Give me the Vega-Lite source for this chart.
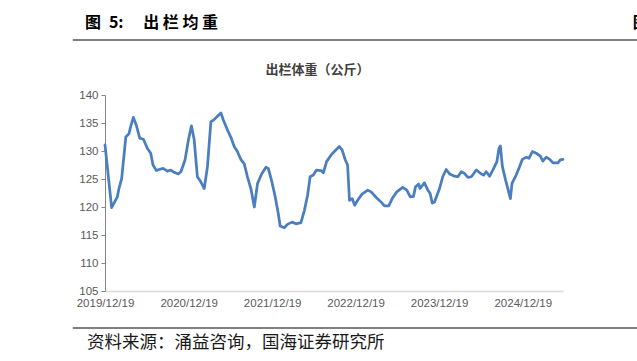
{
  "$schema": "https://vega.github.io/schema/vega-lite/v6.json",
  "width": 458,
  "height": 196,
  "autosize": {"type": "none"},
  "padding": {"left": 105, "top": 95, "right": 74, "bottom": 70},
  "background": "white",
  "config": {
    "view": {"stroke": null},
    "font": "Liberation Sans",
    "axisX": {
      "grid": false,
      "ticks": false,
      "tickSize": 0,
      "domainColor": "#d9d9d9",
      "domainWidth": 1.5,
      "labelColor": "#595959",
      "labelFont": "Liberation Sans",
      "labelFontSize": 11.5,
      "labelPadding": 6,
      "labelFlush": false,
      "labelOverlap": false
    },
    "axisY": {
      "grid": false,
      "domainColor": "#868686",
      "tickColor": "#868686",
      "tickSize": 4,
      "labelColor": "#595959",
      "labelFont": "Liberation Sans",
      "labelFontSize": 11.5,
      "labelPadding": 3,
      "labelOverlap": false,
      "labelFlush": false,
      "tickCount": 8
    }
  },
  "datasets": {
    "weights": [
      {"date": "2019-12-19", "weight": 131.1},
      {"date": "2020-01-17", "weight": 119.9},
      {"date": "2020-02-11", "weight": 121.8},
      {"date": "2020-02-18", "weight": 123.3},
      {"date": "2020-03-01", "weight": 125.1},
      {"date": "2020-03-19", "weight": 132.5},
      {"date": "2020-04-02", "weight": 133.1},
      {"date": "2020-04-10", "weight": 134.5},
      {"date": "2020-04-21", "weight": 136.0},
      {"date": "2020-05-04", "weight": 134.6},
      {"date": "2020-05-19", "weight": 132.3},
      {"date": "2020-06-04", "weight": 132.1},
      {"date": "2020-06-21", "weight": 130.5},
      {"date": "2020-07-06", "weight": 129.6},
      {"date": "2020-07-16", "weight": 127.5},
      {"date": "2020-07-31", "weight": 126.5},
      {"date": "2020-08-12", "weight": 126.7},
      {"date": "2020-08-29", "weight": 126.9},
      {"date": "2020-09-17", "weight": 126.4},
      {"date": "2020-10-02", "weight": 126.6},
      {"date": "2020-10-16", "weight": 126.2},
      {"date": "2020-11-03", "weight": 125.9},
      {"date": "2020-11-15", "weight": 126.3},
      {"date": "2020-12-03", "weight": 128.4},
      {"date": "2020-12-18", "weight": 132.0},
      {"date": "2020-12-31", "weight": 134.5},
      {"date": "2021-01-12", "weight": 132.0},
      {"date": "2021-01-26", "weight": 125.4},
      {"date": "2021-02-10", "weight": 124.5},
      {"date": "2021-02-25", "weight": 123.3},
      {"date": "2021-03-11", "weight": 127.2},
      {"date": "2021-03-26", "weight": 135.2},
      {"date": "2021-04-09", "weight": 135.6},
      {"date": "2021-04-24", "weight": 136.2},
      {"date": "2021-05-09", "weight": 136.8},
      {"date": "2021-05-20", "weight": 135.5},
      {"date": "2021-06-07", "weight": 133.7},
      {"date": "2021-06-24", "weight": 132.2},
      {"date": "2021-07-06", "weight": 130.8},
      {"date": "2021-07-20", "weight": 129.9},
      {"date": "2021-08-04", "weight": 128.5},
      {"date": "2021-08-19", "weight": 127.7},
      {"date": "2021-09-02", "weight": 125.4},
      {"date": "2021-09-17", "weight": 123.3},
      {"date": "2021-10-02", "weight": 120.0},
      {"date": "2021-10-16", "weight": 124.2},
      {"date": "2021-11-03", "weight": 125.9},
      {"date": "2021-11-22", "weight": 127.1},
      {"date": "2021-12-02", "weight": 126.9},
      {"date": "2021-12-16", "weight": 124.8},
      {"date": "2021-12-31", "weight": 122.1},
      {"date": "2022-01-15", "weight": 118.8},
      {"date": "2022-01-23", "weight": 116.6},
      {"date": "2022-02-10", "weight": 116.3},
      {"date": "2022-02-24", "weight": 116.9},
      {"date": "2022-03-16", "weight": 117.3},
      {"date": "2022-04-02", "weight": 117.0},
      {"date": "2022-04-24", "weight": 117.2},
      {"date": "2022-05-09", "weight": 119.4},
      {"date": "2022-05-23", "weight": 122.1},
      {"date": "2022-06-03", "weight": 125.4},
      {"date": "2022-06-17", "weight": 125.7},
      {"date": "2022-07-01", "weight": 126.6},
      {"date": "2022-07-21", "weight": 126.5},
      {"date": "2022-07-31", "weight": 126.1},
      {"date": "2022-08-14", "weight": 128.1},
      {"date": "2022-09-03", "weight": 129.3},
      {"date": "2022-09-17", "weight": 129.9},
      {"date": "2022-10-09", "weight": 130.8},
      {"date": "2022-10-21", "weight": 130.2},
      {"date": "2022-11-04", "weight": 128.4},
      {"date": "2022-11-14", "weight": 127.5},
      {"date": "2022-11-22", "weight": 121.2},
      {"date": "2022-12-04", "weight": 121.5},
      {"date": "2022-12-15", "weight": 120.3},
      {"date": "2022-12-28", "weight": 121.2},
      {"date": "2023-01-16", "weight": 122.3},
      {"date": "2023-02-10", "weight": 123.0},
      {"date": "2023-02-25", "weight": 122.7},
      {"date": "2023-03-19", "weight": 121.7},
      {"date": "2023-04-09", "weight": 120.9},
      {"date": "2023-04-24", "weight": 120.2},
      {"date": "2023-05-13", "weight": 120.2},
      {"date": "2023-05-28", "weight": 121.5},
      {"date": "2023-06-17", "weight": 122.7},
      {"date": "2023-07-13", "weight": 123.5},
      {"date": "2023-07-31", "weight": 123.0},
      {"date": "2023-08-15", "weight": 121.8},
      {"date": "2023-08-29", "weight": 121.9},
      {"date": "2023-09-07", "weight": 123.6},
      {"date": "2023-09-21", "weight": 124.1},
      {"date": "2023-09-27", "weight": 123.3},
      {"date": "2023-10-16", "weight": 124.3},
      {"date": "2023-10-31", "weight": 123.0},
      {"date": "2023-11-10", "weight": 122.4},
      {"date": "2023-11-19", "weight": 120.7},
      {"date": "2023-11-29", "weight": 120.9},
      {"date": "2023-12-21", "weight": 123.3},
      {"date": "2024-01-04", "weight": 125.4},
      {"date": "2024-01-19", "weight": 126.7},
      {"date": "2024-02-03", "weight": 125.9},
      {"date": "2024-02-25", "weight": 125.5},
      {"date": "2024-03-10", "weight": 125.4},
      {"date": "2024-03-25", "weight": 126.3},
      {"date": "2024-04-08", "weight": 126.0},
      {"date": "2024-04-23", "weight": 125.3},
      {"date": "2024-05-08", "weight": 125.4},
      {"date": "2024-05-30", "weight": 126.6},
      {"date": "2024-06-21", "weight": 125.9},
      {"date": "2024-07-01", "weight": 125.7},
      {"date": "2024-07-12", "weight": 126.3},
      {"date": "2024-07-27", "weight": 125.5},
      {"date": "2024-08-10", "weight": 126.6},
      {"date": "2024-08-28", "weight": 128.1},
      {"date": "2024-09-06", "weight": 130.5},
      {"date": "2024-09-12", "weight": 130.9},
      {"date": "2024-09-21", "weight": 127.2},
      {"date": "2024-10-05", "weight": 124.8},
      {"date": "2024-10-26", "weight": 121.5},
      {"date": "2024-11-02", "weight": 124.2},
      {"date": "2024-11-18", "weight": 125.5},
      {"date": "2024-12-05", "weight": 127.2},
      {"date": "2024-12-17", "weight": 128.5},
      {"date": "2025-01-04", "weight": 128.9},
      {"date": "2025-01-15", "weight": 128.7},
      {"date": "2025-01-30", "weight": 129.9},
      {"date": "2025-02-16", "weight": 129.6},
      {"date": "2025-03-06", "weight": 129.1},
      {"date": "2025-03-17", "weight": 128.2},
      {"date": "2025-04-01", "weight": 128.9},
      {"date": "2025-04-16", "weight": 128.5},
      {"date": "2025-04-30", "weight": 127.9},
      {"date": "2025-05-22", "weight": 127.9},
      {"date": "2025-06-01", "weight": 128.4},
      {"date": "2025-06-13", "weight": 128.5}
    ],
    "single": [{}]
  },
  "layer": [
    {
      "data": {"name": "weights"},
      "mark": {"type": "line", "color": "#4a7ebf", "strokeWidth": 2.75, "strokeJoin": "round", "strokeCap": "round"},
      "encoding": {
        "x": {
          "field": "date",
          "type": "temporal",
          "scale": {"type": "utc", "domain": [{"year": 2019, "month": 12, "date": 19, "utc": true}, {"year": 2025, "month": 6, "date": 13, "utc": true}]},
          "axis": {
            "title": null,
            "format": "%Y/%m/%d",
            "labelOverlap": false,
            "values": [
              {"year": 2019, "month": 12, "date": 19, "utc": true},
              {"year": 2020, "month": 12, "date": 19, "utc": true},
              {"year": 2021, "month": 12, "date": 19, "utc": true},
              {"year": 2022, "month": 12, "date": 19, "utc": true},
              {"year": 2023, "month": 12, "date": 19, "utc": true},
              {"year": 2024, "month": 12, "date": 19, "utc": true}
            ]
          }
        },
        "y": {
          "field": "weight",
          "type": "quantitative",
          "scale": {"domain": [105, 140], "zero": false, "nice": false},
          "axis": {
            "title": null,
            "labelOverlap": false,
            "tickCount": 8,
            "values": [105, 110, 115, 120, 125, 130, 135, 140]
          }
        }
      }
    },
    {
      "data": {"name": "single"},
      "mark": {"type": "rule", "color": "#808080", "strokeWidth": 2},
      "encoding": {
        "x": {"datum": {"year": 2019, "month": 7, "date": 31, "utc": true}, "type": "temporal", "axis": {"title": null, "labelOverlap": false}},
        "x2": {"datum": {"year": 2026, "month": 5, "date": 20, "utc": true}},
        "y": {"datum": 149.8, "type": "quantitative", "axis": {"title": null, "labelOverlap": false}}
      }
    },
    {
      "data": {"name": "single"},
      "mark": {"type": "rule", "color": "#808080", "strokeWidth": 2},
      "encoding": {
        "x": {"datum": {"year": 2019, "month": 7, "date": 31, "utc": true}, "type": "temporal", "axis": {"title": null, "labelOverlap": false}},
        "x2": {"datum": {"year": 2026, "month": 5, "date": 20, "utc": true}},
        "y": {"datum": 98.4, "type": "quantitative", "axis": {"title": null, "labelOverlap": false}}
      }
    },
    {
      "data": {"name": "single"},
      "mark": {"type": "text", "align": "left", "baseline": "middle", "font": "Noto Sans CJK SC", "fontSize": 16, "fontWeight": "bold", "color": "#000000", "text": "图\u20025:\u3000 出 栏 均 重"},
      "encoding": {
        "x": {"datum": {"year": 2019, "month": 9, "date": 22, "utc": true}, "type": "temporal", "axis": {"title": null, "labelOverlap": false}},
        "y": {"datum": 152.8, "type": "quantitative", "axis": {"title": null, "labelOverlap": false}}
      }
    },
    {
      "data": {"name": "single"},
      "mark": {"type": "text", "align": "left", "baseline": "middle", "font": "Noto Sans CJK SC", "fontSize": 16, "fontWeight": "bold", "color": "#000000", "text": "图"},
      "encoding": {
        "x": {"datum": {"year": 2026, "month": 4, "date": 14, "utc": true}, "type": "temporal", "axis": {"title": null, "labelOverlap": false}},
        "y": {"datum": 152.8, "type": "quantitative", "axis": {"title": null, "labelOverlap": false}}
      }
    },
    {
      "data": {"name": "single"},
      "mark": {"type": "text", "align": "center", "baseline": "middle", "font": "Noto Sans CJK SC", "fontSize": 13, "fontWeight": "bold", "color": "#404040", "text": "出栏体重（公斤）"},
      "encoding": {
        "x": {"datum": {"year": 2022, "month": 7, "date": 5, "utc": true}, "type": "temporal", "axis": {"title": null, "labelOverlap": false}},
        "y": {"datum": 144.4, "type": "quantitative", "axis": {"title": null, "labelOverlap": false}}
      }
    },
    {
      "data": {"name": "single"},
      "mark": {"type": "text", "align": "left", "baseline": "middle", "font": "Noto Sans CJK SC", "fontSize": 17.5, "fontWeight": "normal", "color": "#1a1a1a", "text": "资料来源：涌益咨询，国海证券研究所"},
      "encoding": {
        "x": {"datum": {"year": 2019, "month": 10, "date": 1, "utc": true}, "type": "temporal", "axis": {"title": null, "labelOverlap": false}},
        "y": {"datum": 95.7, "type": "quantitative", "axis": {"title": null, "labelOverlap": false}}
      }
    }
  ]
}
